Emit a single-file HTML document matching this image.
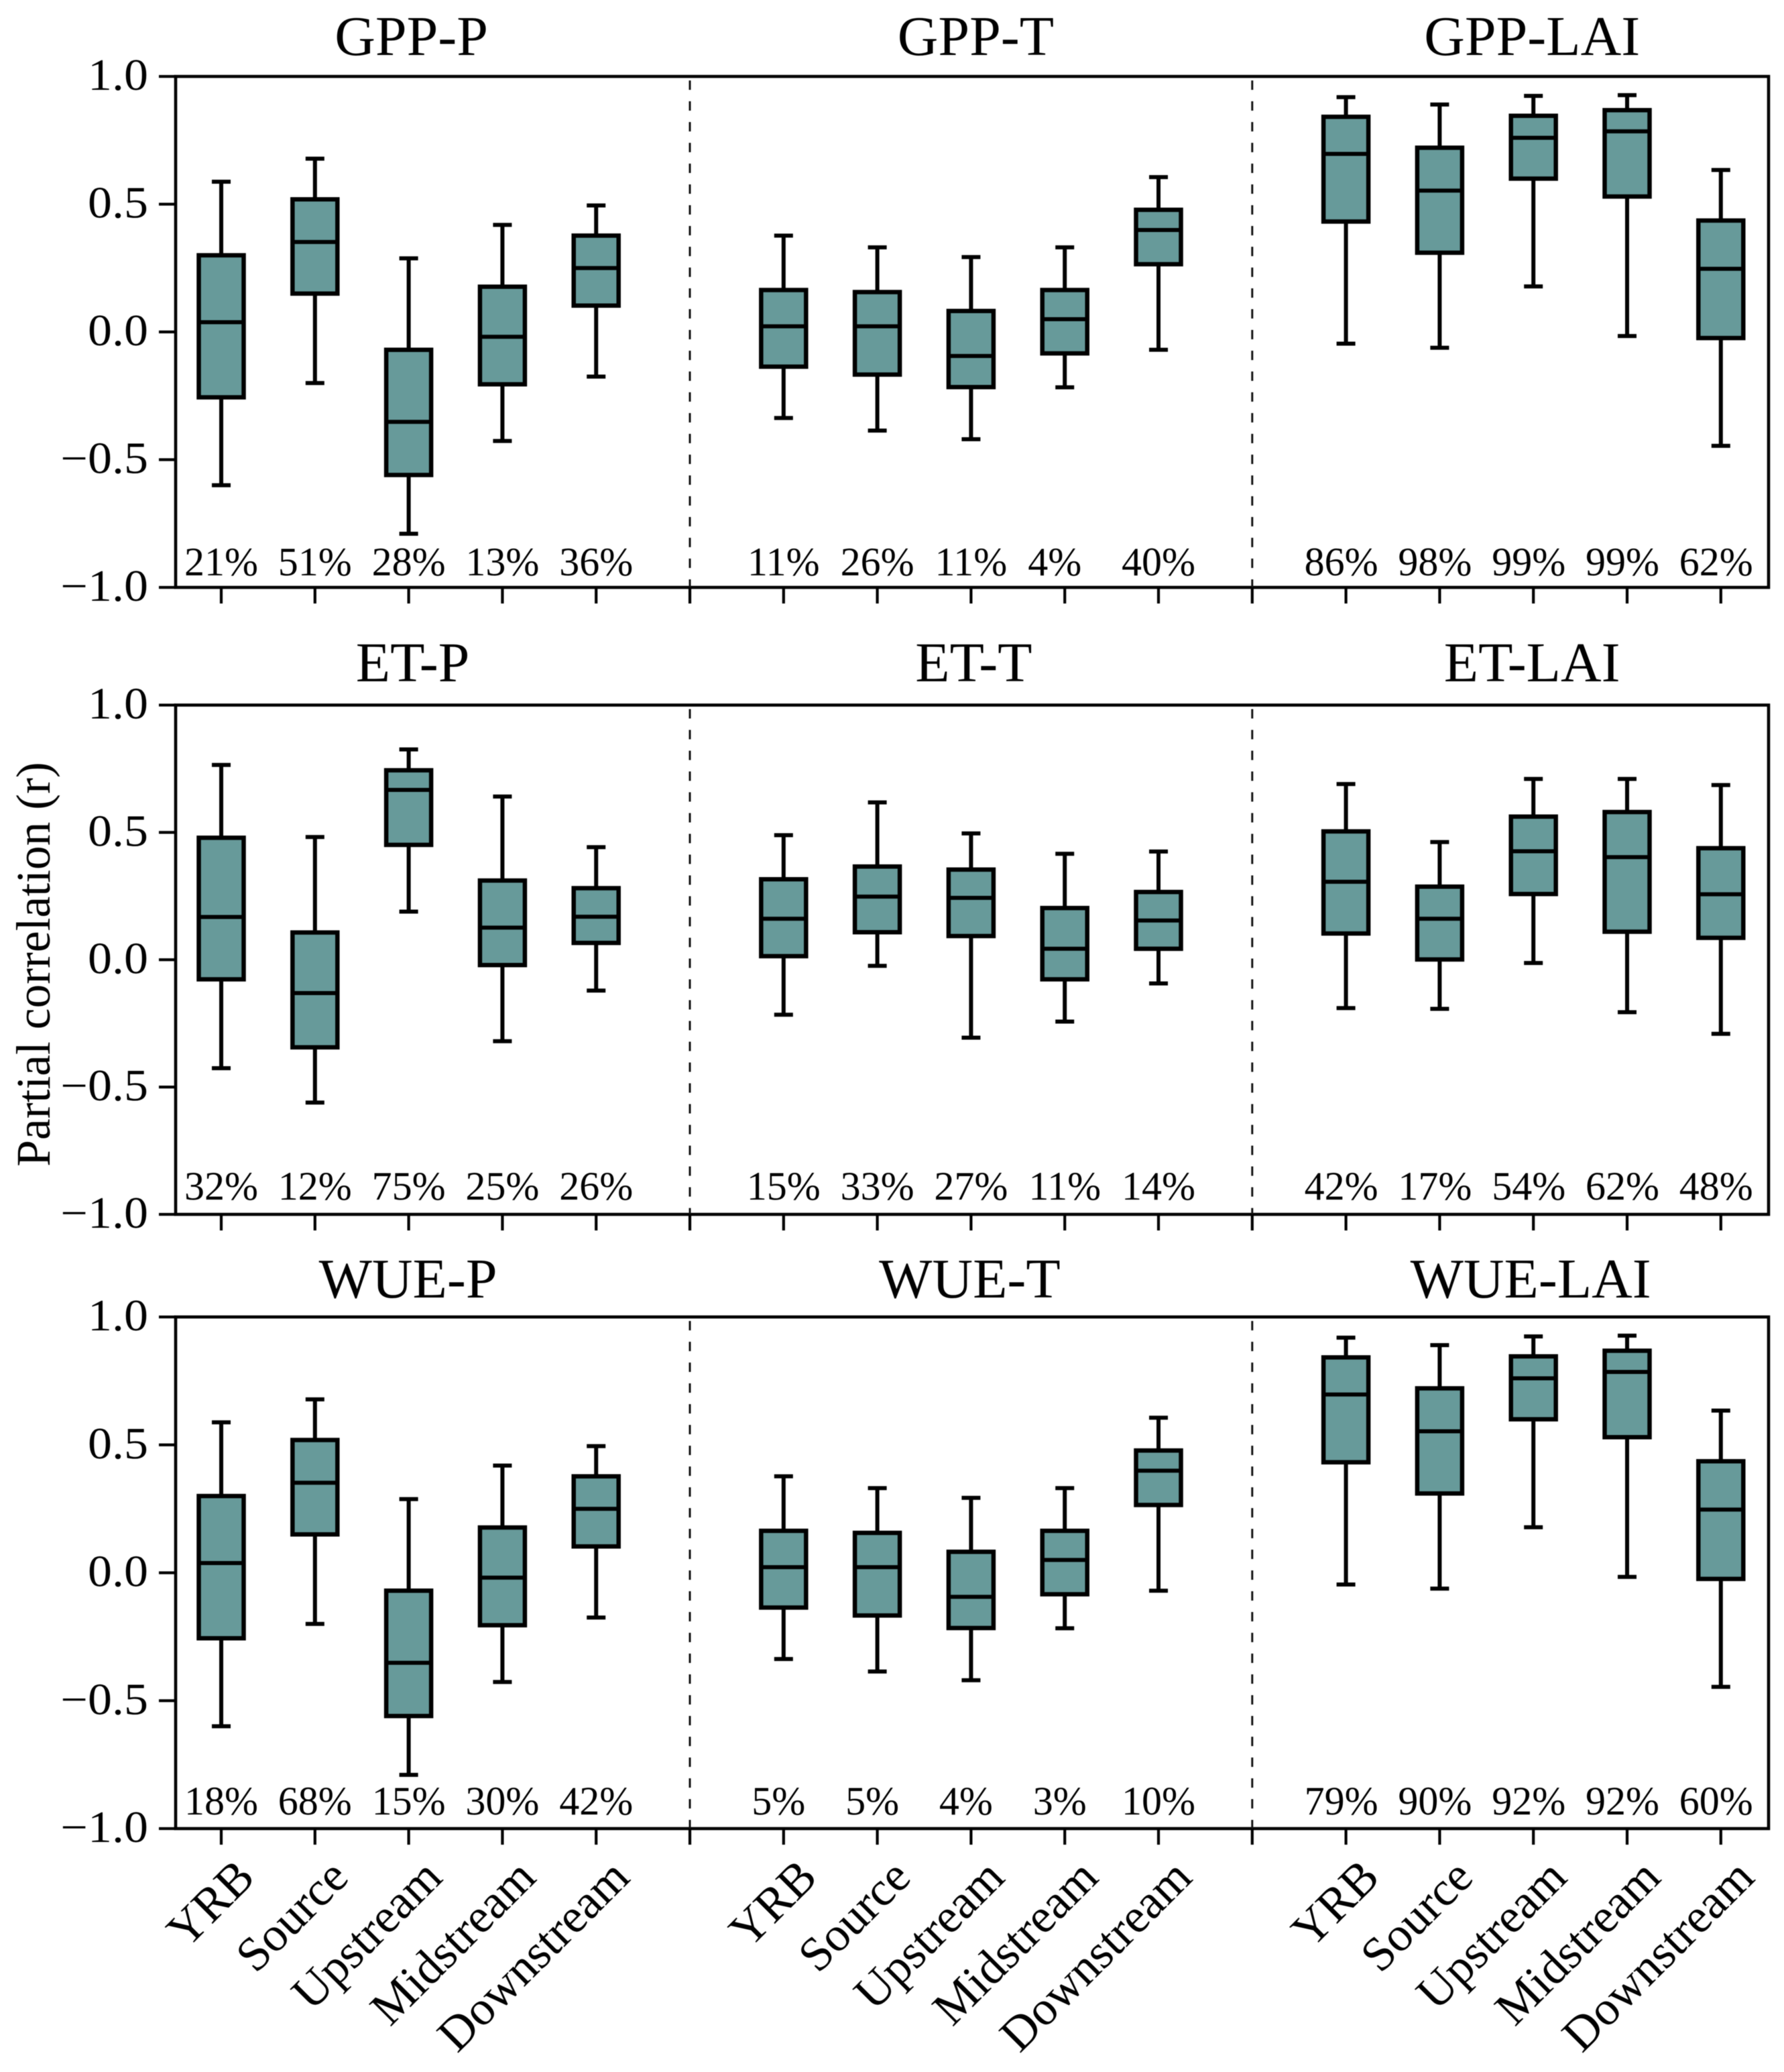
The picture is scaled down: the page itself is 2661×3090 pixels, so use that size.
<!DOCTYPE html>
<html lang="en">
<head>
<meta charset="utf-8">
<title>Partial correlation box plots</title>
<style>
  html, body { margin: 0; padding: 0; background: #fff; }
  #chart { display: block; width: 2661px; height: 3090px; background: #fff; filter: blur(0.6px); }
  text { font-family: "Liberation Serif", "Times New Roman", serif; fill: #000; white-space: pre; }
</style>
</head>
<body>
<svg id="chart" xmlns="http://www.w3.org/2000/svg" width="2661" height="3090" viewBox="0 0 2661 3090"></svg>
<script>
const categories = ['YRB', 'Source', 'Upstream', 'Midstream', 'Downstream'];
const panelTitles = ['GPP-P', 'GPP-T', 'GPP-LAI', 'ET-P', 'ET-T', 'ET-LAI', 'WUE-P', 'WUE-T', 'WUE-LAI'];
const yTicks = [-1, -0.5, 0, 0.5, 1];
const yTickLabels = ['\u22121.0', '\u22120.5', '0.0', '0.5', '1.0'];
const yAxisTitle = 'Partial correlation (r)';

const whiskerHigh = [
  [0.588, 0.678, 0.288, 0.419, 0.495],
  [0.377, 0.331, 0.293, 0.331, 0.606],
  [0.919, 0.890, 0.924, 0.927, 0.634],
  [0.765, 0.482, 0.826, 0.641, 0.442],
  [0.489, 0.618, 0.496, 0.416, 0.425],
  [0.690, 0.462, 0.710, 0.710, 0.686],
  [0.588, 0.678, 0.288, 0.419, 0.495],
  [0.377, 0.331, 0.293, 0.331, 0.606],
  [0.919, 0.890, 0.924, 0.927, 0.634]
];
const q3 = [
  [0.300, 0.519, -0.070, 0.177, 0.377],
  [0.164, 0.156, 0.082, 0.164, 0.478],
  [0.842, 0.721, 0.846, 0.868, 0.436],
  [0.479, 0.107, 0.744, 0.311, 0.281],
  [0.316, 0.366, 0.354, 0.203, 0.266],
  [0.504, 0.287, 0.562, 0.580, 0.438],
  [0.300, 0.519, -0.070, 0.177, 0.377],
  [0.164, 0.156, 0.082, 0.164, 0.478],
  [0.842, 0.721, 0.846, 0.868, 0.436]
];
const median = [
  [0.038, 0.352, -0.352, -0.019, 0.250],
  [0.022, 0.022, -0.094, 0.050, 0.399],
  [0.697, 0.553, 0.760, 0.785, 0.247],
  [0.168, -0.131, 0.667, 0.126, 0.169],
  [0.161, 0.248, 0.243, 0.043, 0.154],
  [0.306, 0.161, 0.426, 0.403, 0.257],
  [0.038, 0.352, -0.352, -0.019, 0.250],
  [0.022, 0.022, -0.094, 0.050, 0.399],
  [0.697, 0.553, 0.760, 0.785, 0.247]
];
const q1 = [
  [-0.256, 0.150, -0.560, -0.205, 0.103],
  [-0.136, -0.167, -0.216, -0.084, 0.265],
  [0.432, 0.310, 0.600, 0.530, -0.024],
  [-0.077, -0.344, 0.451, -0.021, 0.066],
  [0.014, 0.108, 0.093, -0.077, 0.043],
  [0.103, 0.001, 0.258, 0.110, 0.086],
  [-0.256, 0.150, -0.560, -0.205, 0.103],
  [-0.136, -0.167, -0.216, -0.084, 0.265],
  [0.432, 0.310, 0.600, 0.530, -0.024]
];
const whiskerLow = [
  [-0.600, -0.200, -0.790, -0.427, -0.175],
  [-0.337, -0.386, -0.420, -0.217, -0.070],
  [-0.046, -0.062, 0.178, -0.016, -0.446],
  [-0.426, -0.561, 0.189, -0.320, -0.121],
  [-0.216, -0.024, -0.306, -0.243, -0.093],
  [-0.190, -0.193, -0.013, -0.206, -0.291],
  [-0.600, -0.200, -0.790, -0.427, -0.175],
  [-0.337, -0.386, -0.420, -0.217, -0.070],
  [-0.046, -0.062, 0.178, -0.016, -0.446]
];
const percentLabels = [
  ['21%', '51%', '28%', '13%', '36%'],
  ['11%', '26%', '11%', '4%  ', '40%'],
  ['86%', '98%', '99%', '99%', '62%'],
  ['32%', '12%', '75%', '25%', '26%'],
  ['15%', '33%', '27%', '11%', '14%'],
  ['42%', '17%', '54%', '62%', '48%'],
  ['18%', '68%', '15%', '30%', '42%'],
  ['5% ', '5% ', '4% ', '3% ', '10%'],
  ['79%', '90%', '92%', '92%', '60%']
];

const svg = document.getElementById('chart');
const NS = 'http://www.w3.org/2000/svg';
const BOX_FILL = '#679a9a';

function make(tag, attrs, parent, content) {
  const el = document.createElementNS(NS, tag);
  for (const k in attrs) el.setAttribute(k, attrs[k]);
  if (content !== undefined) el.textContent = content;
  parent.appendChild(el);
  return el;
}
function frameOf(row) {
  if (row === 0) return { top: 114, bottom: 876, titleY: 82, pctOffset: 18 };
  if (row === 1) return { top: 1051.5, bottom: 1811, titleY: 1016, pctOffset: 22 };
  return { top: 1964, bottom: 2727, titleY: 1935, pctOffset: 21 };
}
function titleShift(p) {
  if (p === 1) return 7;
  if (p === 2) return -2;
  if (p === 3) return 6;
  if (p === 4) return 4;
  if (p === 5) return -2;
  if (p === 6) return -1;
  if (p === 7) return -2;
  if (p === 8) return -4;
  return 4;
}
function xScale(slot) { return 330 + 139.8 * slot; }
function yScale(value, row) {
  const f = frameOf(row);
  return f.bottom - (value + 1) / 2 * (f.bottom - f.top);
}
const AXIS_LEFT = 262, AXIS_RIGHT = 2638;

function drawRow(row) {
  const f = frameOf(row);
  const g = make('g', {}, svg);
  
  

  const frame = make('rect', { x: AXIS_LEFT, y: f.top, width: AXIS_RIGHT - AXIS_LEFT, height: f.bottom - f.top, fill: 'none', stroke: '#000', 'stroke-width': 4.6 }, g);
  
  

  yTicks.forEach((t, i) => {
    const y = yScale(t, row);
    const tick = make('line', { x1: AXIS_LEFT - 25, x2: AXIS_LEFT, y1: y, y2: y, stroke: '#000', 'stroke-width': 4.2 }, g);
    
    
    const lab = make('text', { 'text-anchor': 'end', 'font-size': 72, transform: 'translate(221 ' + (y + 20) + ') scale(1 0.92)' }, g, yTickLabels[i]);
    
    
  });

  for (let s = 0; s < 17; s++) {
    const tick = make('line', { x1: xScale(s), x2: xScale(s), y1: f.bottom, y2: f.bottom + 24, stroke: '#000', 'stroke-width': 4.2 }, g);
    
    
  }
  [5, 11].forEach(s => {
    const d = make('line', { x1: xScale(s), x2: xScale(s), y1: f.top + 6, y2: f.bottom, stroke: '#111', 'stroke-width': 3, 'stroke-dasharray': '14 17' }, g);
    
    
  });
}

function drawPanel(p) {
  const row = Math.floor(p / 3), col = p % 3;
  const f = frameOf(row);
  const g = make('g', {}, svg);
  
  

  const title = make('text', { x: xScale(col * 6 + 2) + titleShift(p), y: f.titleY, 'text-anchor': 'middle', 'font-size': 84 }, g, panelTitles[p]);
  
  

  categories.forEach((cat, i) => {
    const slot = col * 6 + i;
    const x = xScale(slot);
    const yHi = yScale(whiskerHigh[p][i], row);
    const yQ3 = yScale(q3[p][i], row);
    const yMed = yScale(median[p][i], row);
    const yQ1 = yScale(q1[p][i], row);
    const yLo = yScale(whiskerLow[p][i], row);

    const bg = make('g', {}, g);
    
    

    const wHi = make('line', { x1: x, x2: x, y1: yHi, y2: yQ3, stroke: '#000', 'stroke-width': 6 }, bg);
    
    
    const wLo = make('line', { x1: x, x2: x, y1: yQ1, y2: yLo, stroke: '#000', 'stroke-width': 6 }, bg);
    
    
    const cHi = make('line', { x1: x - 14, x2: x + 14, y1: yHi, y2: yHi, stroke: '#000', 'stroke-width': 6 }, bg);
    
    
    const cLo = make('line', { x1: x - 14, x2: x + 14, y1: yLo, y2: yLo, stroke: '#000', 'stroke-width': 6 }, bg);
    
    
    const rect = make('rect', { x: x - 33.5, y: yQ3, width: 67, height: yQ1 - yQ3, fill: BOX_FILL, stroke: '#000', 'stroke-width': 6.5 }, bg);
    
    
    const med = make('line', { x1: x - 33, x2: x + 33, y1: yMed, y2: yMed, stroke: '#000', 'stroke-width': 6 }, bg);
    
    

    const pctX = col === 2 ? x - 7 : x;
    const pct = make('text', { x: pctX, y: f.bottom - f.pctOffset, 'text-anchor': 'middle', 'font-size': 60 }, g, percentLabels[p][i]);
    
    

    if (row === 2) {
      const lx = x + 53, ly = f.bottom + 76;
      const lab = make('text', { 'text-anchor': 'end', 'font-size': 72, transform: 'translate(' + lx + ' ' + ly + ') rotate(-45)' }, g, cat);
      
      
    }
  });
}

for (let r = 0; r < 3; r++) drawRow(r);
panelTitles.forEach((t, p) => drawPanel(p));

const yTitle = make('text', { 'text-anchor': 'middle', 'font-size': 71.5, transform: 'translate(74 1438) rotate(-90)' }, svg, yAxisTitle);


</script>
</body>
</html>
